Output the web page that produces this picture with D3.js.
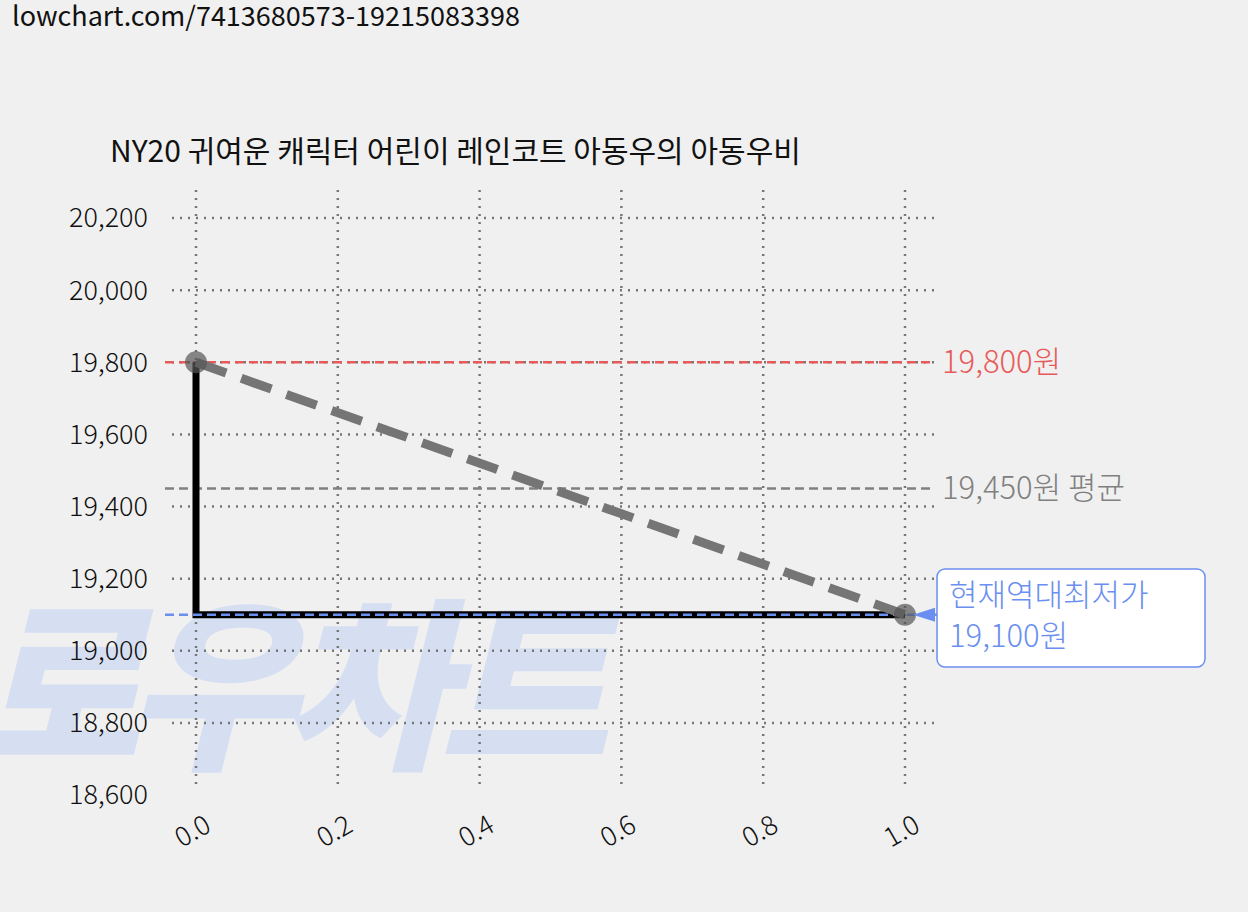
<!DOCTYPE html>
<html><head><meta charset="utf-8">
<script src="https://cdn.jsdelivr.net/npm/d3@7"></script>
<style>body{margin:0;background:#f0f0f0;}text{font-family:"Noto Sans CJK KR","Noto Sans",sans-serif;font-weight:300;}</style>
</head><body><div id="chart"></div>
<script>
const xTicks = [0, 0.2, 0.4, 0.6, 0.8, 1.0];
const yTicks = [18600, 18800, 19000, 19200, 19400, 19600, 19800, 20000, 20200];
const pricePoints = [{x: 0, y: 19800}, {x: 1, y: 19100}];
const stepPoints = [{x: 0, y: 19800}, {x: 0, y: 19100}, {x: 1, y: 19100}];
const maxPrice = 19800, avgPrice = 19450, minPrice = 19100;
const title = "NY20 귀여운 캐릭터 어린이 레인코트 아동우의 아동우비";

const W = 1248, H = 912;
const svg = d3.select("#chart").append("svg").attr("width", W).attr("height", H)
    .style("background", "#f0f0f0");

const x = d3.scaleLinear().domain([0, 1]).range([196, 905]);
const y = d3.scaleLinear().domain([18600, 20200]).range([795, 218]);

// watermark
svg.append("text").attr("x", -30).attr("y", 755)
    .text("로우차트").attr("fill", "#d6dff2")
    .style("font-size", "185px").style("font-weight", "900").style("font-style", "italic")
    .style("letter-spacing", "-14px");

svg.append("text").attr("x", 12).attr("y", 26).text("lowchart.com/7413680573-19215083398")
    .style("font-size", "27px").style("font-weight", "400").attr("fill", "#111");
svg.append("text").attr("x", 110).attr("y", 162).text(title)
    .style("font-size", "30px").style("font-weight", "400").attr("fill", "#111");

// grid
svg.selectAll(".hg").data(yTicks.slice(1)).enter().append("line")
    .attr("x1", 172).attr("x2", 935).attr("y1", d => y(d)).attr("y2", d => y(d))
    .attr("stroke", "#777").attr("stroke-width", 2.5).attr("stroke-dasharray", "2,6");
svg.selectAll(".vg").data(xTicks).enter().append("line")
    .attr("x1", d => x(d)).attr("x2", d => x(d)).attr("y1", 190).attr("y2", 785)
    .attr("stroke", "#777").attr("stroke-width", 2.5).attr("stroke-dasharray", "2,6");

svg.selectAll(".yl").data(yTicks).enter().append("text")
    .attr("x", 148).attr("y", d => y(d)).attr("dy", "0.35em").attr("text-anchor", "end")
    .text(d => d3.format(",")(d)).style("font-size", "27px").attr("fill", "#111");
svg.selectAll(".xl").data(xTicks).enter().append("text")
    .attr("transform", d => `translate(${x(d) + 12},${822}) rotate(-30)`)
    .attr("text-anchor", "end").attr("dy", "0.35em")
    .text(d => d.toFixed(1)).style("font-size", "27px").attr("fill", "#111");

// reference lines
function hline(v, color, x2) {
    svg.append("line").attr("x1", 165).attr("x2", x2).attr("y1", y(v)).attr("y2", y(v))
        .attr("stroke", color).attr("stroke-width", 2.5).attr("stroke-dasharray", "9,5");
}
hline(maxPrice, "#e85a5a", 935);
hline(avgPrice, "#808080", 935);
svg.append("text").attr("x", 942).attr("y", y(maxPrice)).attr("dy", "0.35em")
    .text(d3.format(",")(maxPrice) + "원").attr("fill", "#e85a5a").style("font-size", "31px");
svg.append("text").attr("x", 942).attr("y", y(avgPrice)).attr("dy", "0.35em")
    .text(d3.format(",")(avgPrice) + "원 평균").attr("fill", "#808080").style("font-size", "31px");

const line = d3.line().x(d => x(d.x)).y(d => y(d.y));
svg.append("path").attr("d", line(stepPoints)).attr("fill", "none")
    .attr("stroke", "#000").attr("stroke-width", 7);
hline(minPrice, "#6b8ff0", 915);
svg.append("path").attr("d", line(pricePoints)).attr("fill", "none")
    .attr("stroke", "#757575").attr("stroke-width", 9).attr("stroke-dasharray", "32,16");
svg.selectAll(".pt").data(pricePoints).enter().append("circle")
    .attr("cx", d => x(d.x)).attr("cy", d => y(d.y)).attr("r", 11)
    .attr("fill", "#555").attr("opacity", 0.7);

// min label box
svg.append("path").attr("d", `M${x(1) + 8},${y(minPrice)} l22,-7 l0,14 z`).attr("fill", "#6b8ff0");
svg.append("line").attr("x1", x(1) + 20).attr("x2", 937).attr("y1", y(minPrice)).attr("y2", y(minPrice))
    .attr("stroke", "#6b8ff0").attr("stroke-width", 2.5);
svg.append("rect").attr("x", 937).attr("y", 569).attr("width", 268).attr("height", 98).attr("rx", 8)
    .attr("fill", "#fff").attr("stroke", "#6b8ff0").attr("stroke-width", 1.5);
svg.append("text").attr("x", 949).attr("y", 606).text("현재역대최저가")
    .attr("fill", "#6b8ff0").style("font-size", "31px");
svg.append("text").attr("x", 949).attr("y", 647).text(d3.format(",")(minPrice) + "원")
    .attr("fill", "#6b8ff0").style("font-size", "31px");
</script></body></html>
